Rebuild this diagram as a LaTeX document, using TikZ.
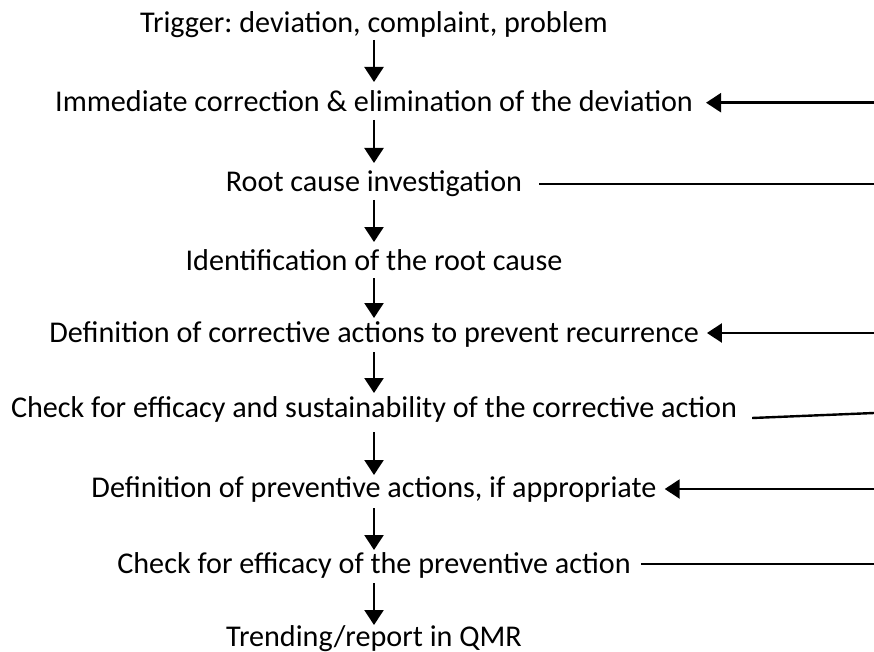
\documentclass[tikz,border=0pt]{standalone}
\usepackage{fontspec}
\setmainfont{Carlito}
\usetikzlibrary{arrows.meta}
\newlength\reflen
\AtBeginDocument{%
  \settowidth\reflen{\normalfont\frenchspacing\fontsize{10pt}{12pt}\selectfont Check for efficacy and sustainability of the corrective action}%
  \pgfmathsetmacro\fsz{10*726/\reflen}}
\begin{document}
\begin{tikzpicture}[x=1pt,y=-1pt,
  lbl/.style={anchor=base,inner sep=0pt,font=\frenchspacing\fontsize{\fsz pt}{\fsz pt}\selectfont},
  arr/.style={line width=2.4pt,-{Triangle[length=15pt,width=19pt]}},
  ln/.style={line width=2.4pt}]
\useasboundingbox (0,0) rectangle (874,652);
\node[lbl] (n1) at (374,33)  {Trigger: deviation, complaint, problem};
\node[lbl] (n2) at (374,112) {Immediate correction \& elimination of the deviation};
\node[lbl] (n3) at (374,192) {Root cause investigation};
\node[lbl] (n4) at (374,270) {Identification of the root cause};
\node[lbl] (n5) at (374,342) {Definition of corrective actions to prevent recurrence};
\node[lbl] (n6) at (374,417) {Check for efficacy and sustainability of the corrective action};
\node[lbl] (n7) at (374,497) {Definition of preventive actions, if appropriate};
\node[lbl] (n8) at (374,573) {Check for efficacy of the preventive action};
\node[lbl] (n9) at (374,646) {Trending/report in QMR};
% vertical flow arrows
\draw[arr] ([yshift=-7pt]n1.base)  -- ([yshift=30pt]n2.base);
\draw[arr] ([yshift=-8pt]n2.base)  -- ([yshift=29pt]n3.base);
\draw[arr] ([yshift=-8pt]n3.base)  -- ([yshift=28pt]n4.base);
\draw[arr] ([yshift=-8pt]n4.base)  -- ([yshift=24pt]n5.base);
\draw[arr] ([yshift=-10pt]n5.base) -- ([yshift=24pt]n6.base);
\draw[arr] ([yshift=-15pt]n6.base) -- ([yshift=22pt]n7.base);
\draw[arr] ([yshift=-11pt]n7.base) -- ([yshift=23pt]n8.base);
\draw[arr] ([yshift=-10pt]n8.base) -- ([yshift=21pt]n9.base);
% side connectors (free ends at the right edge)
\coordinate (e2) at (874,102.7);
\coordinate (e3) at (874,184);
\coordinate (e5) at (874,333);
\coordinate (e6) at (874,413);
\coordinate (e7) at (874,489);
\coordinate (e8) at (874,564);
\draw[arr] (e2) -- ([xshift=13pt]n2.base east |- e2);
\draw[ln]  ([xshift=17pt]n3.base east |- e3) -- (e3);
\draw[arr] (e5) -- ([xshift=8pt]n5.base east |- e5);
\draw[ln]  ([xshift=15pt,yshift=-1pt]n6.base east) -- (e6);
\draw[arr] (e7) -- ([xshift=8pt]n7.base east |- e7);
\draw[ln]  ([xshift=10pt]n8.base east |- e8) -- (e8);
\end{tikzpicture}
\end{document}
